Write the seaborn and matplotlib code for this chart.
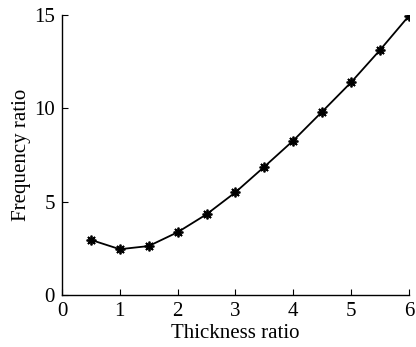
import matplotlib
matplotlib.use("Agg")
import matplotlib.pyplot as plt
import seaborn as sns
import pandas as pd

thickness_ratio = [0.5, 1.0, 1.5, 2.0, 2.5, 3.0, 3.5, 4.0, 4.5, 5.0, 5.5, 6.0]
frequency_ratio = [2.95, 2.45, 2.62, 3.36, 4.32, 5.5, 6.87, 8.27, 9.82, 11.39, 13.12, 14.95]
x_ticks = [0, 1, 2, 3, 4, 5, 6]
y_ticks = [0, 5, 10, 15]

sns.set_theme(style="ticks")
plt.rcParams['font.family'] = ['Liberation Serif', 'DejaVu Serif']
plt.rcParams['mathtext.fontset'] = 'stix'

df = pd.DataFrame({"Thickness ratio": thickness_ratio, "Frequency ratio": frequency_ratio})

fig = plt.figure(figsize=(4.16, 3.47), dpi=100)
ax = fig.add_axes([0.149, 0.150, 0.834, 0.807])
sns.lineplot(data=df, x="Thickness ratio", y="Frequency ratio", ax=ax,
             color="black", linewidth=1.3, marker=(8, 2, 0), markersize=7,
             markeredgewidth=1.3, markeredgecolor="black")
ax.set_xlim(0, 6)
ax.set_ylim(0, 15)
ax.set_xticks(x_ticks)
ax.set_yticks(y_ticks)
ax.tick_params(direction="in", length=4, width=0.8, labelsize=15, colors="black", pad=5)
for s in ["top", "right"]:
    ax.spines[s].set_visible(False)
for s in ["left", "bottom"]:
    ax.spines[s].set_color("black")
    ax.spines[s].set_linewidth(1.0)
ax.set_xlabel("Thickness ratio", fontsize=15, color="black", labelpad=2)
ax.set_ylabel("Frequency ratio", fontsize=15, color="black", labelpad=2)
fig.savefig("out.png", dpi=100)
